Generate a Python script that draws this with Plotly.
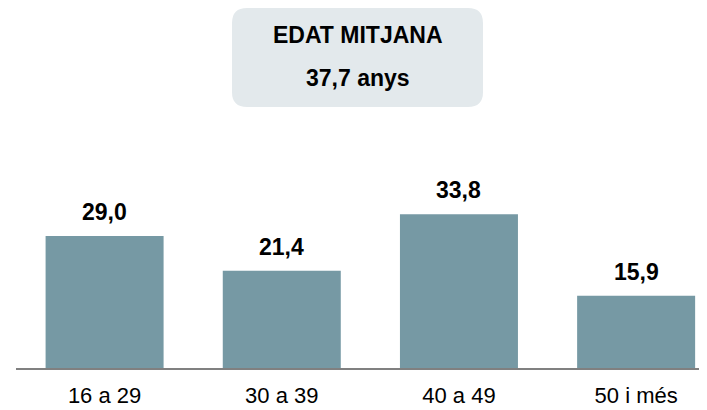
import plotly.graph_objects as go

# age groups and share of people (%)
groups = ["16 a 29", "30 a 39", "40 a 49", "50 i més"]
shares = [29.0, 21.4, 33.8, 15.9]
share_labels = ["29,0", "21,4", "33,8", "15,9"]

box_title = "EDAT MITJANA"
box_value = "37,7 anys"

BAR_COLOR = "#7699A4"
BOX_COLOR = "#E3E9EC"
FONT = "Arial, Liberation Sans, sans-serif"

# the page body has an 8px margin, so the figure sits at (8, 8) in the window
OFF = 8
W, H = 707 - OFF, 410 - OFF
ML, MR, MT, MB = 8, 0, 0, 42
PW, PH = W - ML - MR, H - MT - MB


def px_x(v):
    # window pixel -> paper x
    return (v - OFF - ML) / PW


def px_y(v):
    return 1 - (v - OFF - MT) / PH


def rounded_box(x0, y0, x1, y1, r):
    a0, a1 = px_x(x0), px_x(x1)
    b0, b1 = px_y(y1), px_y(y0)
    rx, ry = r / PW, r / PH
    return (
        f"M {a0 + rx} {b0} L {a1 - rx} {b0} Q {a1} {b0} {a1} {b0 + ry} "
        f"L {a1} {b1 - ry} Q {a1} {b1} {a1 - rx} {b1} "
        f"L {a0 + rx} {b1} Q {a0} {b1} {a0} {b1 - ry} "
        f"L {a0} {b0 + ry} Q {a0} {b0} {a0 + rx} {b0} Z"
    )


fig = go.Figure(
    go.Bar(
        x=groups,
        y=shares,
        marker=dict(color=BAR_COLOR, line=dict(width=0)),
        hoverinfo="skip",
    )
)

for g, v, t in zip(groups, shares, share_labels):
    fig.add_annotation(
        x=g, y=v, text=f"<b>{t}</b>", showarrow=False,
        yanchor="bottom", yshift=9,
        font=dict(family=FONT, size=23, color="#000000"),
    )

fig.add_shape(
    type="path", xref="paper", yref="paper",
    path=rounded_box(232, 8, 483, 107, 15),
    fillcolor=BOX_COLOR, line=dict(width=0), layer="below",
)
fig.add_annotation(
    xref="paper", yref="paper", x=px_x(357.5), y=px_y(35),
    xanchor="center", yanchor="middle",
    text=f"<b>{box_title}</b>", showarrow=False,
    font=dict(family=FONT, size=23, color="#000000"),
)
fig.add_annotation(
    xref="paper", yref="paper", x=px_x(357.5), y=px_y(78),
    xanchor="center", yanchor="middle",
    text=f"<b>{box_value}</b>", showarrow=False,
    font=dict(family=FONT, size=23, color="#000000"),
)

fig.update_layout(
    width=W, height=H,
    margin=dict(l=ML, r=MR, t=MT, b=MB),
    paper_bgcolor="#FFFFFF",
    plot_bgcolor="#FFFFFF",
    bargap=0.334,
    showlegend=False,
    font=dict(family=FONT, color="#000000"),
)
fig.update_xaxes(
    range=[-0.5, 3.4],
    showline=True, linecolor="#808080", linewidth=2,
    ticks="outside", ticklen=7, tickcolor="rgba(0,0,0,0)",
    tickfont=dict(family=FONT, size=22, color="#000000"),
    showgrid=False, zeroline=False, fixedrange=True,
)
fig.update_yaxes(
    range=[0, PH / 4.55],
    visible=False, showgrid=False, zeroline=False, fixedrange=True,
)

fig.write_html("out.html")
